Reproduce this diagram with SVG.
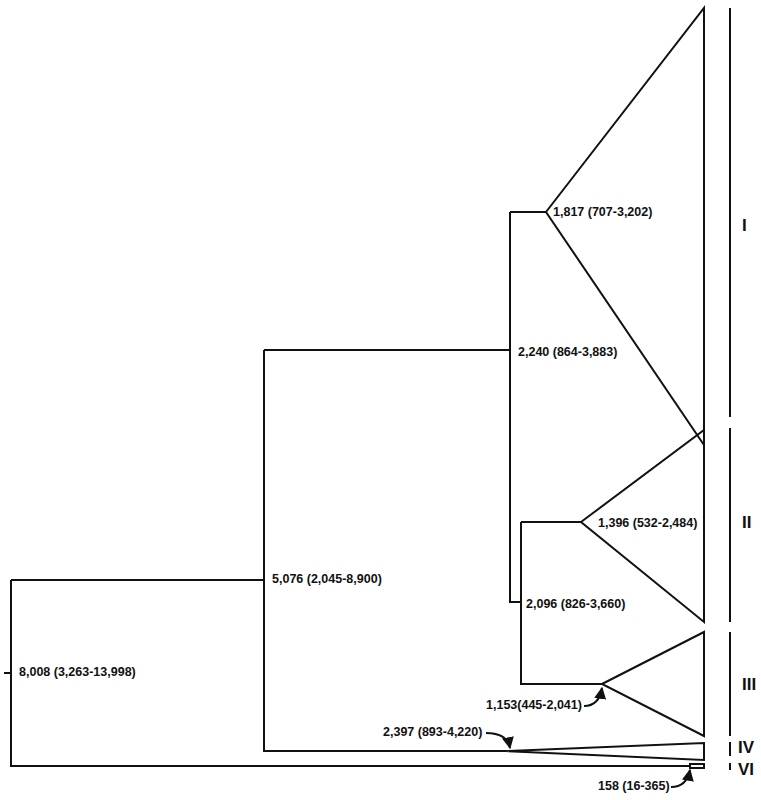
<svg xmlns="http://www.w3.org/2000/svg" width="761" height="800" viewBox="0 0 761 800">
<style>
.l{fill:none;stroke:#111;stroke-width:2}
.t{fill:#111;font-family:"Liberation Sans",Arial,sans-serif;font-weight:bold;font-size:12.5px;dominant-baseline:middle}
.r{fill:#111;font-family:"Liberation Sans",Arial,sans-serif;font-weight:bold;font-size:17px;dominant-baseline:middle}
</style>
<defs><marker id="a" viewBox="0 0 10 10" refX="9" refY="5" markerWidth="6" markerHeight="6" orient="auto"><path d="M0,0L10,5L0,10z" fill="#111"/></marker></defs>
<rect width="761" height="800" fill="#fff"/>
<g id="connectors">
<path class="l" d="M4,673H11M11,580V766H690M11,580H264M264,350V751H505M264,350H510M510,212V602H521M510,212H546M521,522V684H602M521,522H581"/>
<path class="l" marker-end="url(#a)" d="M584,706 C594,706 600,700 602,688"/>
<path class="l" marker-end="url(#a)" d="M486,733 C500,733 508,738 510,748"/>
<path class="l" marker-end="url(#a)" d="M671,787 C682,787 688,780 690,770"/>
</g>
<g id="cladeI"><path class="l" d="M546,212L704,8V445Z"/><text class="t" x="553" y="213">1,817 (707-3,202)</text></g>
<g id="cladeII"><path class="l" d="M581,522L704,430V622Z"/><text class="t" x="598" y="524">1,396 (532-2,484)</text></g>
<g id="cladeIII"><path class="l" d="M602,684L704,632V736Z"/><text class="t" x="486" y="706">1,153(445-2,041)</text></g>
<g id="cladeIV"><path class="l" d="M505,751L704,743V760Z"/><text class="t" x="383" y="733">2,397 (893-4,220)</text></g>
<g id="cladeVI"><rect class="l" x="690" y="764" width="14" height="4" stroke-width="1.5"/><text class="t" x="598" y="787">158 (16-365)</text></g>
<g id="n2240"><text class="t" x="518" y="353">2,240 (864-3,883)</text></g>
<g id="n2096"><text class="t" x="526" y="605">2,096 (826-3,660)</text></g>
<g id="n5076"><text class="t" x="272" y="580">5,076 (2,045-8,900)</text></g>
<g id="n8008"><text class="t" x="19" y="673">8,008 (3,263-13,998)</text></g>
<g id="bars">
<path class="l" d="M730,8V417M730,428V622M730,632V736M730,742V756M730,763V770"/>
<text class="r" x="742" y="227">I</text><text class="r" x="742" y="524">II</text><text class="r" x="742" y="686">III</text><text class="r" x="738" y="749">IV</text><text class="r" x="738" y="771">VI</text>
</g>
</svg>
